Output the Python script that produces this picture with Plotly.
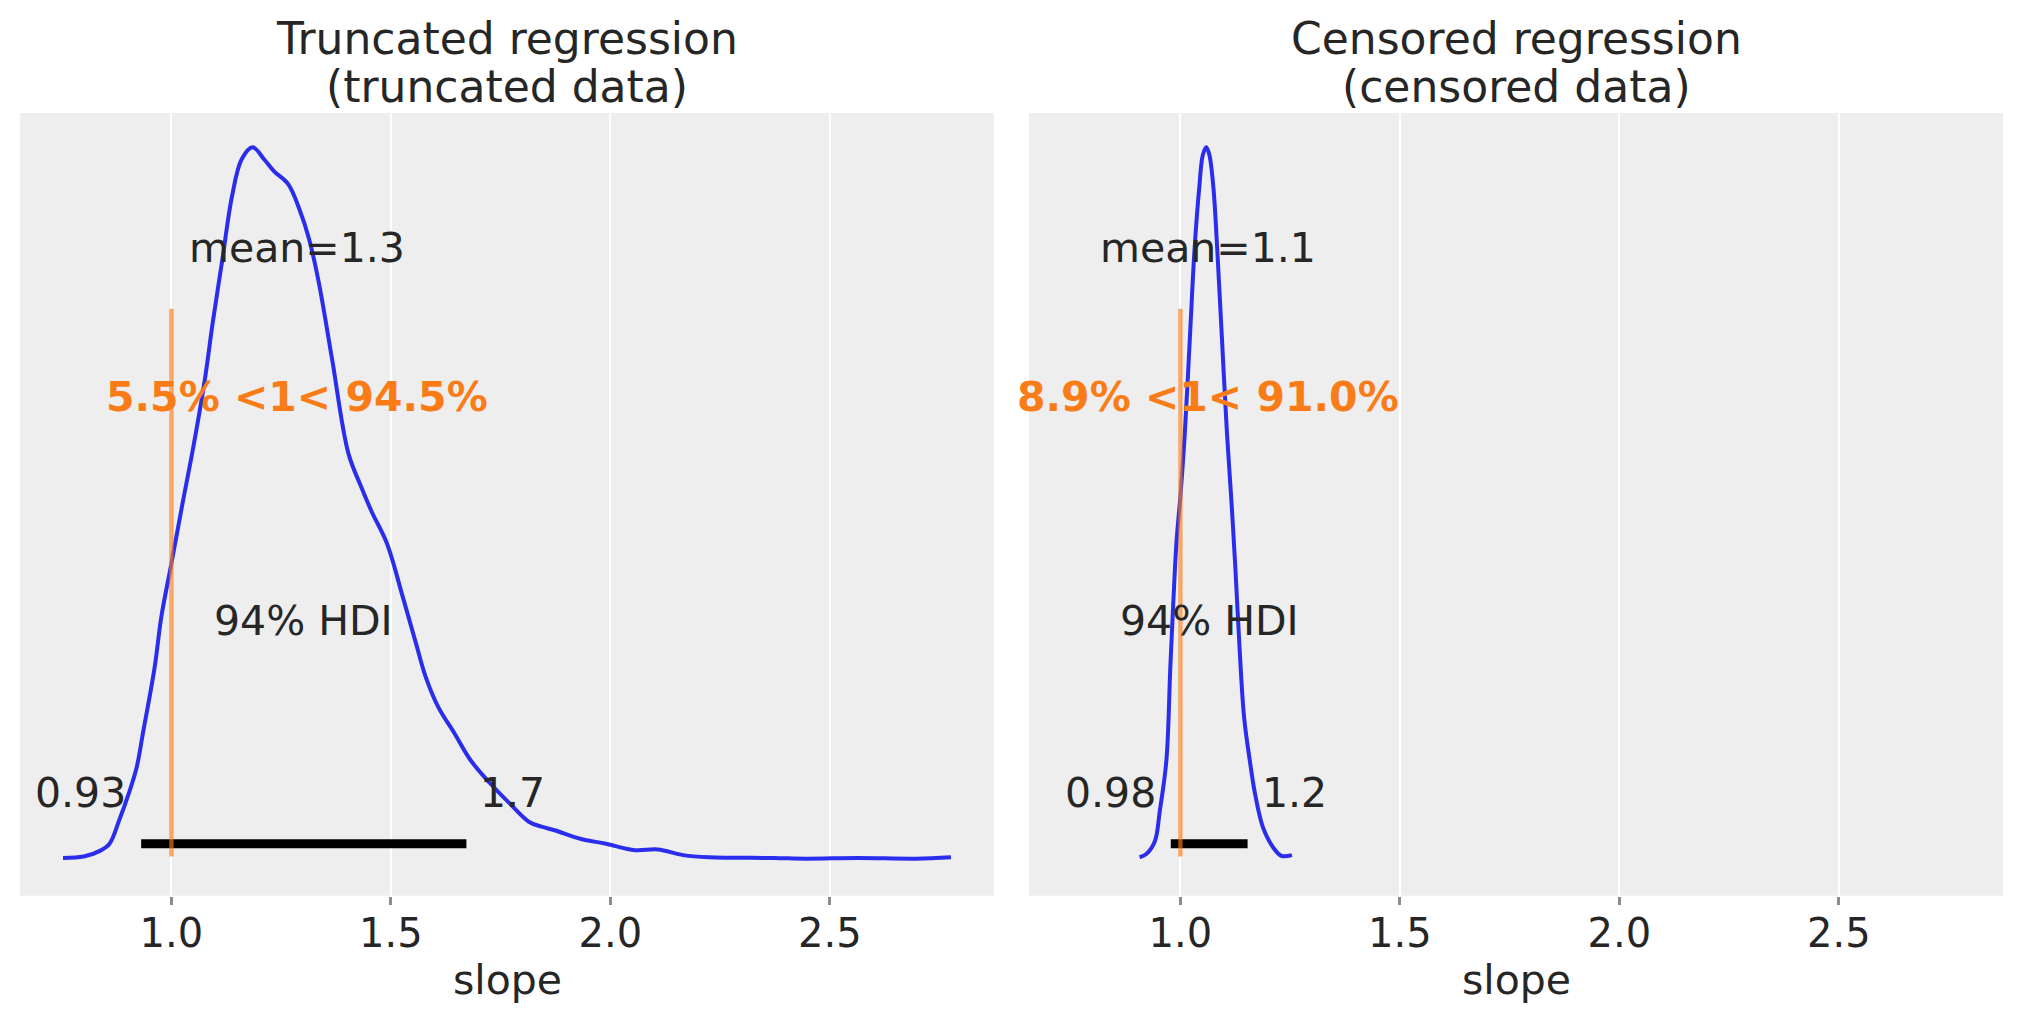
import plotly.graph_objects as go

# ---------------- data ----------------
# Truncated regression posterior KDE of slope
trunc_x = [0.753, 0.800, 0.837, 0.859, 0.881, 0.903, 0.921, 0.935, 0.962, 0.977,
           1.000, 1.024, 1.050, 1.076, 1.094, 1.116, 1.138, 1.160, 1.185, 1.211,
           1.234, 1.266, 1.292, 1.314, 1.336, 1.366, 1.403, 1.432, 1.456, 1.491,
           1.527, 1.557, 1.579, 1.608, 1.645, 1.682, 1.726, 1.770, 1.814, 1.843,
           1.873, 1.931, 1.990, 2.056, 2.108, 2.166, 2.225, 2.372, 2.446, 2.564,
           2.696, 2.776]
trunc_density = [0.002, 0.006, 0.022, 0.042, 0.108, 0.184, 0.258, 0.352, 0.540, 0.680,
                 0.830, 0.990, 1.158, 1.346, 1.506, 1.684, 1.862, 1.966, 2.000, 1.966,
                 1.932, 1.896, 1.824, 1.740, 1.618, 1.404, 1.140, 1.046, 0.976, 0.886,
                 0.736, 0.606, 0.512, 0.426, 0.352, 0.276, 0.212, 0.156, 0.104, 0.090,
                 0.080, 0.056, 0.042, 0.024, 0.026, 0.010, 0.004, 0.002, 0.000, 0.002,
                 0.000, 0.004]

# Censored regression posterior KDE of slope
cens_x = [0.907, 0.923, 0.942, 0.953, 0.968, 0.977, 0.984, 0.991, 1.000, 1.010,
          1.022, 1.032, 1.043, 1.051, 1.059, 1.066, 1.075, 1.084, 1.094, 1.106,
          1.116, 1.125, 1.135, 1.145, 1.158, 1.170, 1.188, 1.211, 1.230, 1.254]
cens_density = [0.016, 0.055, 0.195, 0.523, 1.076, 2.106, 2.831, 3.471, 3.978, 4.664,
                5.756, 6.669, 7.363, 7.714, 7.800, 7.714, 7.363, 6.669, 5.756, 4.664,
                3.931, 3.198, 2.285, 1.552, 1.076, 0.710, 0.343, 0.125, 0.031, 0.039]

titles = [["Truncated regression", "(truncated data)"],
          ["Censored regression", "(censored data)"]]
means = [1.287, 1.063]
mean_labels = ["mean=1.3", "mean=1.1"]
hdi_bounds = [[0.931, 1.672], [0.978, 1.153]]
hdi_labels = [["0.93", "1.7"], ["0.98", "1.2"]]
hdi_text = "94% HDI"
ref_val = 1.0
ref_labels = ["5.5% <1< 94.5%", "8.9% <1< 91.0%"]
x_label = "slope"
tick_vals = [1.0, 1.5, 2.0, 2.5]
tick_text = ["1.0", "1.5", "2.0", "2.5"]

# ---------------- style ----------------
W, H = 2023, 1023
BLUE = "#2a2eec"
ORANGE = "#fa7c17"
TXT = "#262626"
FONT = "DejaVu Sans"
BG = "#eeeeee"
x_range = [0.655, 2.874]
x_domains = [[20 / W, 994 / W], [1029 / W, 2003 / W]]
y_domain = [1 - 895.7 / H, 1 - 113 / H]
LBL = 41
TITLE = 44
BASE_SHIFT = 14  # baseline -> box-centre offset (px)

fig = go.Figure()
annotations = []
layout_axes = {}

series = [(trunc_x, trunc_density), (cens_x, cens_density)]
for i, (xs, ds) in enumerate(series):
    n = "" if i == 0 else str(i + 1)
    xa, ya = "x" + n, "y" + n
    ymax = max(ds)
    ylo, yhi = -0.052 * ymax, 1.048 * ymax
    ph = yhi  # plot height as used by arviz

    fig.add_trace(go.Scatter(x=xs, y=ds, mode="lines", xaxis=xa, yaxis=ya,
                             line=dict(color=BLUE, width=4, shape="spline", smoothing=1.0),
                             hoverinfo="skip", showlegend=False))
    lo, hi = hdi_bounds[i]
    fig.add_trace(go.Scatter(x=[lo, hi], y=[0.02 * ph, 0.02 * ph], mode="lines",
                             xaxis=xa, yaxis=ya, line=dict(color="black", width=9),
                             hoverinfo="skip", showlegend=False))
    fig.add_trace(go.Scatter(x=[ref_val, ref_val],
                             y=[ylo + 0.05 * (yhi - ylo), ylo + 0.75 * (yhi - ylo)],
                             mode="lines", xaxis=xa, yaxis=ya, opacity=0.65,
                             line=dict(color=ORANGE, width=4.3),
                             hoverinfo="skip", showlegend=False))

    def txt(x, y, text, xanchor="center", xshift=0, bold=False, color=TXT):
        annotations.append(dict(
            x=x, y=y, xref=xa, yref=ya, text=("<b>%s</b>" % text) if bold else text,
            showarrow=False, xanchor=xanchor, yanchor="middle",
            xshift=xshift, yshift=BASE_SHIFT,
            font=dict(family=FONT, size=LBL, color=color)))

    txt(means[i], 0.8 * ph, mean_labels[i])
    txt(means[i], 0.6 * ph, ref_labels[i], bold=True, color=ORANGE)
    txt((lo + hi) / 2, 0.3 * ph, hdi_text)
    txt(lo, 0.07 * ph, hdi_labels[i][0], xanchor="right", xshift=-13)
    txt(hi, 0.07 * ph, hdi_labels[i][1], xanchor="left", xshift=12)

    cx = (x_domains[i][0] + x_domains[i][1]) / 2
    annotations.append(dict(x=cx, y=1 - 38.1 / H, xref="paper", yref="paper",
                            text=titles[i][0], showarrow=False, xanchor="center",
                            yanchor="middle", font=dict(family=FONT, size=TITLE, color=TXT)))
    annotations.append(dict(x=cx, y=1 - 86.5 / H, xref="paper", yref="paper",
                            text=titles[i][1], showarrow=False, xanchor="center",
                            yanchor="middle", font=dict(family=FONT, size=TITLE, color=TXT)))
    annotations.append(dict(x=cx, y=1 - 980 / H, xref="paper", yref="paper",
                            text=x_label, showarrow=False, xanchor="center",
                            yanchor="middle", font=dict(family=FONT, size=LBL, color=TXT)))

    layout_axes["xaxis" + n] = dict(
        domain=x_domains[i], range=x_range, anchor=ya,
        tickvals=tick_vals, ticktext=tick_text,
        showgrid=True, gridcolor="white", gridwidth=2, zeroline=False,
        showline=False, ticks="outside", ticklen=8, tickwidth=2.5, tickcolor="#8c8c8c",
        ticklabelstandoff=-6,
        tickfont=dict(family=FONT, size=40, color=TXT))
    layout_axes["yaxis" + n] = dict(
        domain=y_domain, range=[ylo, yhi], anchor=xa, visible=False,
        showgrid=False, zeroline=False)

fig.update_layout(
    width=W, height=H, margin=dict(l=0, r=0, t=0, b=0),
    paper_bgcolor="white", plot_bgcolor=BG,
    annotations=annotations, showlegend=False,
    **layout_axes)

fig.write_html("out.html")
